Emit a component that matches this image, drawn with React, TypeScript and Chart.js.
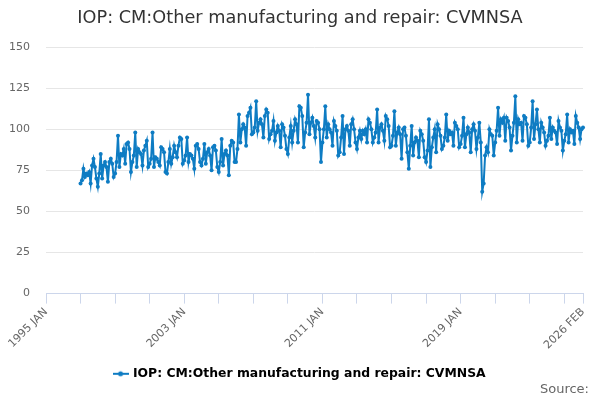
import { useEffect, useRef } from "react"
import Chart from "chart.js/auto"

const TITLE = "IOP: CM:Other manufacturing and repair: CVMNSA"
const SERIES_NAME = "IOP: CM:Other manufacturing and repair: CVMNSA"
const MONTHS = ["JAN", "FEB", "MAR", "APR", "MAY", "JUN", "JUL", "AUG", "SEP", "OCT", "NOV", "DEC"]

// axis runs 1995 JAN .. 2026 FEB, data starts 1997 JAN
const axisStartYear = 1995
const dataStartYear = 1997
const axisMonths = 374

const yTicks = [0, 25, 50, 75, 100, 125, 150]

// monthly values, one row per year
const values: number[] = [
  67, 69, 76, 71, 73, 72, 74, 67, 78, 82, 77, 70, // 1997
  65, 73, 85, 70, 78, 80, 77, 68, 80, 82, 79, 71, // 1998
  73, 80, 96, 77, 85, 84, 88, 79, 91, 92, 88, 74, // 1999
  80, 84, 98, 77, 88, 86, 85, 78, 87, 90, 93, 77, // 2000
  79, 82, 98, 77, 83, 82, 80, 78, 89, 88, 86, 74, // 2001
  73, 80, 88, 79, 83, 90, 86, 83, 90, 95, 94, 79, // 2002
  81, 84, 95, 80, 85, 84, 82, 76, 90, 91, 88, 80, // 2003
  78, 82, 91, 79, 86, 88, 84, 75, 89, 90, 87, 77, // 2004
  74, 80, 94, 78, 85, 87, 84, 72, 90, 93, 92, 80, // 2005
  80, 88, 109, 92, 100, 103, 101, 90, 108, 110, 113, 97, // 2006
  98, 101, 117, 99, 104, 106, 103, 95, 108, 112, 110, 94, // 2007
  97, 99, 105, 93, 98, 102, 99, 89, 103, 101, 96, 88, // 2008
  85, 95, 102, 92, 99, 106, 103, 92, 114, 113, 108, 89, // 2009
  98, 104, 121, 97, 104, 107, 102, 95, 105, 104, 100, 80, // 2010
  92, 100, 114, 95, 103, 100, 98, 90, 105, 102, 99, 84, // 2011
  86, 95, 108, 85, 100, 102, 99, 90, 103, 106, 100, 92, // 2012
  88, 95, 99, 94, 99, 97, 100, 92, 106, 104, 100, 92, // 2013
  95, 98, 112, 92, 101, 103, 99, 93, 108, 106, 102, 89, // 2014
  90, 96, 111, 90, 98, 101, 97, 82, 100, 101, 96, 86, // 2015
  76, 90, 102, 84, 92, 95, 93, 83, 99, 97, 93, 83, // 2016
  80, 87, 106, 77, 89, 95, 100, 86, 103, 100, 96, 88, // 2017
  90, 95, 109, 93, 99, 97, 98, 90, 104, 102, 100, 89, // 2018
  91, 96, 107, 89, 97, 101, 98, 86, 100, 103, 99, 88, // 2019
  95, 104, 92, 62, 67, 84, 89, 86, 100, 97, 96, 84, // 2020
  92, 99, 113, 96, 106, 104, 107, 93, 107, 105, 101, 87, // 2021
  96, 104, 120, 92, 106, 103, 104, 93, 108, 107, 103, 90, // 2022
  92, 101, 117, 94, 103, 112, 100, 92, 104, 101, 98, 90, // 2023
  93, 96, 107, 94, 101, 99, 98, 91, 105, 101, 99, 87, // 2024
  93, 97, 109, 92, 100, 98, 99, 91, 108, 104, 101, 94, // 2025
  100, 101, // 2026
]

const labels: string[] = []
for (let i = 0; i < axisMonths; i++) {
  labels.push(`${axisStartYear + Math.floor(i / 12)} ${MONTHS[i % 12]}`)
}
const leadingGap = (dataStartYear - axisStartYear) * 12
const seriesData: (number | null)[] = [...Array(leadingGap).fill(null), ...values]

const BLUE = "#0e7cc3"

// little line-with-dot symbol for the legend
function legendMarker() {
  const c = document.createElement("canvas")
  c.width = 16
  c.height = 8
  const ctx = c.getContext("2d")!
  ctx.strokeStyle = BLUE
  ctx.lineWidth = 2
  ctx.beginPath()
  ctx.moveTo(0, 4)
  ctx.lineTo(16, 4)
  ctx.stroke()
  ctx.fillStyle = BLUE
  ctx.beginPath()
  ctx.arc(8, 4, 2.5, 0, Math.PI * 2)
  ctx.fill()
  return c
}

const sourcePlugin = {
  id: "sourceText",
  afterDraw(chart: Chart) {
    const ctx = chart.ctx
    ctx.save()
    ctx.font = "13px 'DejaVu Sans'"
    ctx.fillStyle = "#666666"
    ctx.textAlign = "right"
    ctx.textBaseline = "middle"
    ctx.fillText("Source:", 589, 390)
    ctx.restore()
  },
}

export default function App() {
  const canvasRef = useRef<HTMLCanvasElement>(null)

  useEffect(() => {
    document.body.style.margin = "0"
    if (!canvasRef.current) return
    const marker = legendMarker()
    const chart = new Chart(canvasRef.current, {
      type: "line",
      data: {
        labels,
        datasets: [
          {
            label: SERIES_NAME,
            data: seriesData,
            borderColor: BLUE,
            backgroundColor: BLUE,
            borderWidth: 2,
            pointRadius: 2,
            pointBorderWidth: 0,
            pointBackgroundColor: BLUE,
            pointStyle: "circle",
            tension: 0,
          },
        ],
      },
      options: {
        animation: false,
        responsive: false,
        devicePixelRatio: 1,
        layout: { padding: { left: 0, right: 0, top: 0, bottom: 10 } },
        plugins: {
          title: {
            display: true,
            text: TITLE,
            color: "#333333",
            font: { family: "'DejaVu Sans'", size: 17.7, weight: "normal" },
            padding: { top: 8, bottom: 17.8 },
          },
          legend: {
            position: "bottom",
            labels: {
              usePointStyle: true,
              padding: 14,
              color: "#333333",
              font: { family: "'DejaVu Sans'", size: 12.4, weight: "bold" },
              generateLabels: () => [
                {
                  text: SERIES_NAME,
                  pointStyle: marker as any,
                  fillStyle: BLUE,
                  strokeStyle: BLUE,
                  lineWidth: 0,
                  hidden: false,
                  datasetIndex: 0,
                },
              ],
            },
          },
          tooltip: { enabled: false },
        },
        scales: {
          x: {
            type: "category",
            offset: false,
            afterFit: (scale: any) => {
              scale.height = 60
            },
            grid: {
              drawOnChartArea: false,
              drawTicks: true,
              tickLength: 10,
              color: "#ccd6eb",
            },
            border: { display: true, color: "#ccd6eb" },
            ticks: {
              autoSkip: false,
              minRotation: 45,
              maxRotation: 45,
              padding: 2,
              color: "#666666",
              font: { family: "'DejaVu Sans'", size: 11 },
              callback: (_v: any, i: number) => {
                if (i === axisMonths - 1) return labels[i]
                if (i % 24 !== 0) return null
                return i % 96 === 0 ? labels[i] : ""
              },
            },
          },
          y: {
            min: 0,
            max: 150,
            afterFit: (scale: any) => {
              scale.width = 46
            },
            afterBuildTicks: (scale: any) => {
              scale.ticks = yTicks.map((v) => ({ value: v }))
            },
            grid: { color: "#e6e6e6", drawTicks: false },
            border: { display: false },
            ticks: {
              padding: 16,
              color: "#666666",
              font: { family: "'DejaVu Sans'", size: 11 },
            },
          },
          // empty spacer on the right so the title and legend stay centred
          yRight: {
            position: "right",
            min: 0,
            max: 150,
            afterFit: (scale: any) => {
              scale.width = 17
            },
            grid: { display: false, drawTicks: false },
            border: { display: false },
            ticks: { display: false },
          },
        },
      },
      plugins: [sourcePlugin],
    })
    return () => chart.destroy()
  }, [])

  return (
    <div style={{ width: 600, height: 400, position: "relative", background: "#ffffff" }}>
      <canvas ref={canvasRef} width={600} height={400} />
    </div>
  )
}
